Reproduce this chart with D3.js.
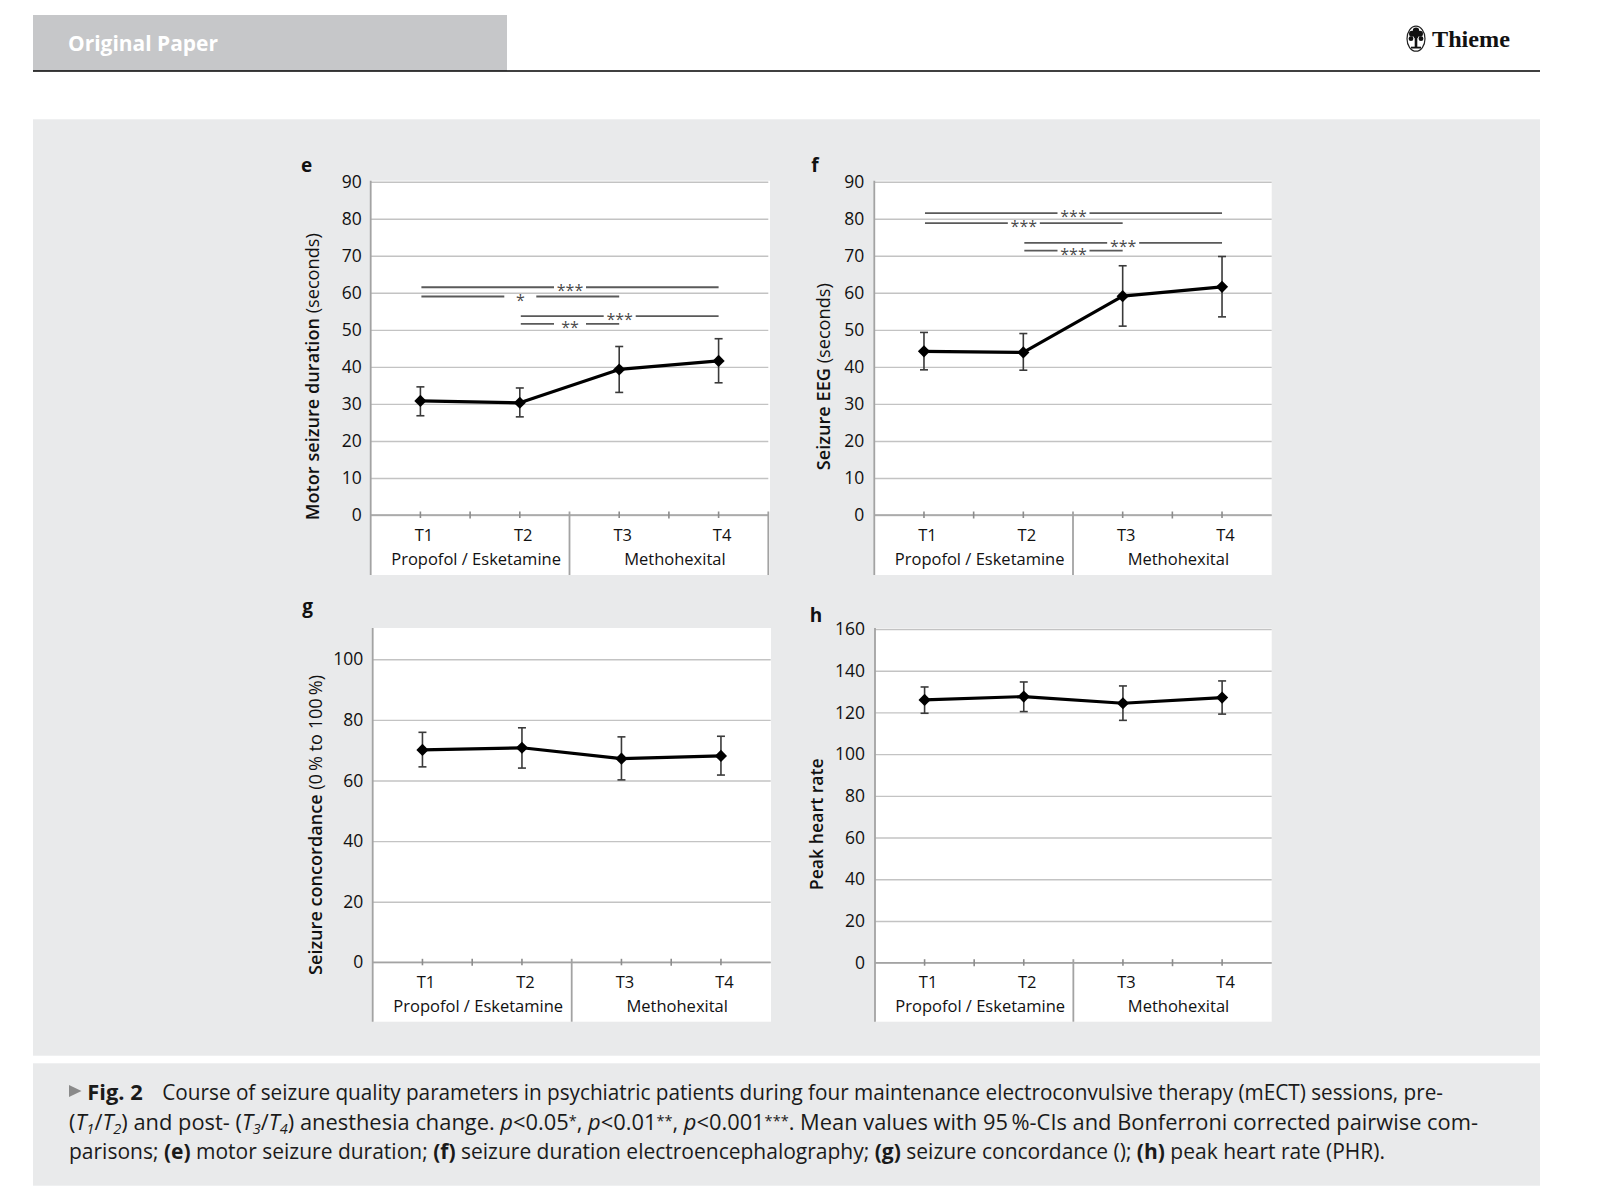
<html>
<head>
<meta charset="utf-8">
<script src="https://d3js.org/d3.v7.min.js"></script>
<style>
body { margin:0; background:#fff; }
</style>
</head>
<body>
<svg width="1600" height="1200"></svg>
<script>
// ---- data ----
var timepoints = ["T1", "T2", "T3", "T4"];
var groups = ["Propofol / Esketamine", "Methohexital"];

var motorMean = [30.8, 30.3, 39.3, 41.6];
var motorLow  = [26.8, 26.5, 33.1, 35.7];
var motorHigh = [34.6, 34.3, 45.5, 47.6];

var eegMean = [44.2, 43.9, 59.1, 61.6];
var eegLow  = [39.2, 39.1, 51.0, 53.5];
var eegHigh = [49.3, 49.0, 67.3, 69.8];

var concMean = [70.1, 70.8, 67.2, 68.1];
var concLow  = [64.5, 64.1, 60.2, 61.8];
var concHigh = [75.9, 77.4, 74.4, 74.6];

var hrMean = [126.0, 127.6, 124.4, 127.1];
var hrLow  = [119.6, 120.4, 116.2, 119.2];
var hrHigh = [132.2, 134.6, 132.7, 135.1];

// pairwise comparisons: from, to, bar height (data units), label
var motorSig = [["T1", "T4", 61.5, "***"], ["T1", "T3", 59.0, "*"], ["T2", "T4", 53.7, "***"], ["T2", "T3", 51.6, "**"]];
var eegSig   = [["T1", "T4", 81.5, "***"], ["T1", "T3", 78.8, "***"], ["T2", "T4", 73.5, "***"], ["T2", "T3", 71.4, "***"]];

var ticks90  = [0, 10, 20, 30, 40, 50, 60, 70, 80, 90];
var ticksConc = [0, 20, 40, 60, 80, 100];
var ticksHr  = [0, 20, 40, 60, 80, 100, 120, 140, 160];

var FONT = "'Open Sans', 'Noto Sans', sans-serif";
var svg = d3.select("svg");

// ---- page furniture ----
svg.append("rect").attr("x", 33).attr("y", 15).attr("width", 474).attr("height", 56).attr("fill", "#c6c7c9");
svg.append("text").attr("x", 68).attr("y", 50.5)
	.attr("font-family", FONT).attr("font-weight", 700).attr("font-size", 21)
	.attr("fill", "#fff").attr("textLength", 150).attr("lengthAdjust", "spacingAndGlyphs")
	.text("Original Paper");
svg.append("line").attr("x1", 33).attr("x2", 1540).attr("y1", 71).attr("y2", 71)
	.attr("stroke", "#000").attr("stroke-width", 1.6);

// Thieme logo
var logo = svg.append("g").attr("transform", "translate(1416,38.7)");
logo.append("ellipse").attr("rx", 9).attr("ry", 12.5).attr("fill", "#fff").attr("stroke", "#222").attr("stroke-width", 1.2);
logo.append("rect").attr("x", -1.3).attr("y", -1).attr("width", 2.6).attr("height", 10).attr("fill", "#111");
logo.append("rect").attr("x", -5).attr("y", 8).attr("width", 10).attr("height", 1.8).attr("fill", "#111");
[[-4, -5, 3], [4, -5, 3], [0, -8, 3.2], [-5, 0, 2.4], [5, 0, 2.4], [0, -3, 2.6]].forEach(function(c) {
	logo.append("circle").attr("cx", c[0]).attr("cy", c[1]).attr("r", c[2]).attr("fill", "#111");
});
svg.append("text").attr("x", 1432).attr("y", 47.3)
	.attr("font-family", "'Liberation Serif', 'DejaVu Serif', serif").attr("font-weight", 700).attr("font-size", 24)
	.attr("fill", "#111").attr("textLength", 78).attr("lengthAdjust", "spacingAndGlyphs")
	.text("Thieme");

// figure and caption backgrounds
svg.append("rect").attr("x", 33).attr("y", 119.3).attr("width", 1507).attr("height", 936.4).attr("fill", "#e9eaeb");
svg.append("rect").attr("x", 33).attr("y", 1063.3).attr("width", 1507).attr("height", 122.4).attr("fill", "#e9eaeb");

// ---- panels ----
var panels = [
	{letter: "e", lx: 306.5, ly: 171.7, left: 370.7, right: 768.3, whiteRight: 770, zero: 515, top: 181.7, bottom: 575,
	 max: 90, ticks: ticks90, pad: 9, mean: motorMean, low: motorLow, high: motorHigh, sig: motorSig, rightEdge: true,
	 title: ["Motor seizure duration", " (seconds)"], tx: 319.3, ty: 376.7, tlen: 287},
	{letter: "f", lx: 815, ly: 171.7, left: 874.3, right: 1271.7, whiteRight: 1271.7, zero: 515, top: 181.7, bottom: 575,
	 max: 90, ticks: ticks90, pad: 10, mean: eegMean, low: eegLow, high: eegHigh, sig: eegSig, rightEdge: false,
	 title: ["Seizure EEG", " (seconds)"], tx: 830, ty: 376.7, tlen: 187},
	{letter: "g", lx: 307.5, ly: 613, left: 372.7, right: 770.7, whiteRight: 771, zero: 962.3, top: 629, bottom: 1021.7,
	 max: 110, ticks: ticksConc, pad: 9.4, mean: concMean, low: concLow, high: concHigh, sig: [], rightEdge: false,
	 title: ["Seizure concordance", " (0\u2009% to 100\u2009%)"], tx: 321.7, ty: 825, tlen: 300},
	{letter: "h", lx: 816, ly: 621.7, left: 875, right: 1271.7, whiteRight: 1271.7, zero: 962.7, top: 629, bottom: 1021.7,
	 max: 160, ticks: ticksHr, pad: 10, mean: hrMean, low: hrLow, high: hrHigh, sig: [], rightEdge: false,
	 title: ["Peak heart rate", ""], tx: 822.7, ty: 824.2, tlen: 132}
];

function drawPanel(p) {
	var g = svg.append("g");
	var x = d3.scaleBand().domain(timepoints).range([p.left, p.right]);
	var y = d3.scaleLinear().domain([0, p.max]).range([p.zero, p.top]);
	var cx = function(t) { return x(t) + x.bandwidth() / 2; };

	g.append("rect").attr("x", p.left).attr("y", p.top - 1)
		.attr("width", p.whiteRight - p.left).attr("height", p.bottom - p.top + 1).attr("fill", "#fff");

	// grid lines + y labels
	g.append("g").attr("transform", "translate(" + p.left + ",0)")
		.call(d3.axisLeft(y).tickValues(p.ticks).tickSize(-(p.right - p.left)).tickPadding(p.pad))
		.attr("font-family", FONT).attr("font-size", 17.5)
		.call(a => a.select(".domain").remove())
		.call(a => a.selectAll(".tick line").attr("stroke", "#c3c3c3").attr("stroke-width", 1.4))
		.call(a => a.selectAll(".tick text").attr("fill", "#111"));

	// zero line and left axis line
	g.append("line").attr("x1", p.left).attr("x2", p.right).attr("y1", y(0)).attr("y2", y(0))
		.attr("stroke", "#a3a3a3").attr("stroke-width", 1.6);
	g.append("line").attr("x1", p.left).attr("x2", p.left).attr("y1", p.top - 1).attr("y2", p.bottom)
		.attr("stroke", "#a3a3a3").attr("stroke-width", 1.8);

	// category axis
	g.append("g").attr("transform", "translate(0," + y(0) + ")")
		.call(d3.axisBottom(x).tickSizeInner(3).tickSizeOuter(0).tickPadding(0))
		.attr("font-family", FONT).attr("font-size", 16.5)
		.call(a => a.select(".domain").remove())
		.call(a => a.selectAll(".tick line").attr("y1", -3.5).attr("stroke", "#8c8c8c").attr("stroke-width", 1.6))
		.call(a => a.selectAll(".tick text").attr("y", 25.5).attr("dy", null).attr("dx", 3.5).attr("fill", "#111"));
	["T2", "T4"].forEach(function(t) {
		g.append("line").attr("x1", x(t)).attr("x2", x(t)).attr("y1", y(0) - 3.5).attr("y2", y(0) + 3.5)
			.attr("stroke", "#8c8c8c").attr("stroke-width", 1.6);
	});
	g.append("line").attr("x1", x("T3")).attr("x2", x("T3")).attr("y1", y(0) - 3.5).attr("y2", p.bottom)
		.attr("stroke", "#a3a3a3").attr("stroke-width", 1.8);
	if (p.rightEdge) {
		g.append("line").attr("x1", p.right).attr("x2", p.right).attr("y1", y(0) - 3.5).attr("y2", p.bottom)
			.attr("stroke", "#a3a3a3").attr("stroke-width", 1.8);
	}
	g.selectAll(".grp").data(groups).enter().append("text")
		.attr("x", function(d, i) { return x(timepoints[2 * i + 1]) + 6; })
		.attr("y", y(0) + 49.5)
		.attr("text-anchor", "middle").attr("font-family", FONT).attr("font-size", 16.5).attr("fill", "#111")
		.text(function(d) { return d; });

	// significance bars
	p.sig.forEach(function(s) {
		var x1 = cx(s[0]) + 1, x2 = cx(s[1]), yy = y(s[2]), mid = (x1 + x2) / 2;
		g.append("line").attr("x1", x1).attr("x2", mid - 16).attr("y1", yy).attr("y2", yy)
			.attr("stroke", "#5a5a5a").attr("stroke-width", 1.8);
		g.append("line").attr("x1", mid + 16).attr("x2", x2).attr("y1", yy).attr("y2", yy)
			.attr("stroke", "#5a5a5a").attr("stroke-width", 1.8);
		g.append("text").attr("x", mid).attr("y", yy + 9).attr("text-anchor", "middle")
			.attr("font-family", FONT).attr("font-size", 16).attr("fill", "#4a4a4a").text(s[3]);
	});

	// error bars
	var rows = timepoints.map(function(t, i) { return {t: t, m: p.mean[i], lo: p.low[i], hi: p.high[i]}; });
	var eb = g.selectAll(".eb").data(rows).enter().append("g");
	eb.append("line").attr("x1", d => cx(d.t)).attr("x2", d => cx(d.t)).attr("y1", d => y(d.lo)).attr("y2", d => y(d.hi))
		.attr("stroke", "#3a3a3a").attr("stroke-width", 1.6);
	eb.append("line").attr("x1", d => cx(d.t) - 4).attr("x2", d => cx(d.t) + 4).attr("y1", d => y(d.lo)).attr("y2", d => y(d.lo))
		.attr("stroke", "#3a3a3a").attr("stroke-width", 1.6);
	eb.append("line").attr("x1", d => cx(d.t) - 4).attr("x2", d => cx(d.t) + 4).attr("y1", d => y(d.hi)).attr("y2", d => y(d.hi))
		.attr("stroke", "#3a3a3a").attr("stroke-width", 1.6);

	// mean line + diamonds
	g.append("path").datum(rows)
		.attr("d", d3.line().x(d => cx(d.t)).y(d => y(d.m)))
		.attr("fill", "none").attr("stroke", "#000").attr("stroke-width", 3.2).attr("stroke-linejoin", "round");
	g.selectAll(".mk").data(rows).enter().append("path")
		.attr("d", d3.symbol(d3.symbolSquare, 74)())
		.attr("transform", d => "translate(" + cx(d.t) + "," + y(d.m) + ") rotate(45)")
		.attr("fill", "#000");

	// y title
	var tt = g.append("text").attr("transform", "translate(" + p.tx + "," + p.ty + ") rotate(-90)")
		.attr("text-anchor", "middle").attr("font-family", FONT).attr("font-size", 18.5).attr("fill", "#111")
		.attr("textLength", p.tlen).attr("lengthAdjust", "spacingAndGlyphs");
	tt.append("tspan").attr("font-weight", 600).text(p.title[0]);
	if (p.title[1]) tt.append("tspan").attr("font-weight", 400).text(p.title[1]);

	// panel letter
	g.append("text").attr("x", p.lx).attr("y", p.ly).attr("text-anchor", "middle")
		.attr("font-family", FONT).attr("font-weight", 700).attr("font-size", 19).attr("fill", "#111").text(p.letter);
}
panels.forEach(drawPanel);

// ---- caption ----
var cap = svg.append("g").attr("font-family", FONT).attr("font-size", 21).attr("fill", "#1a1a1a");
cap.append("path").attr("d", "M69,1085 L81.5,1091 L69,1097 Z").attr("fill", "#8a8a8a");
cap.append("text").attr("x", 87.3).attr("y", 1100).attr("font-weight", 700)
	.attr("textLength", 55.4).attr("lengthAdjust", "spacingAndGlyphs").text("Fig. 2");
cap.append("text").attr("x", 162.3).attr("y", 1100)
	.attr("textLength", 1280.7).attr("lengthAdjust", "spacingAndGlyphs")
	.text("Course of seizure quality parameters in psychiatric patients during four maintenance electroconvulsive therapy (mECT) sessions, pre-");

var l2 = cap.append("text").attr("x", 69).attr("y", 1130)
	.attr("textLength", 1409).attr("lengthAdjust", "spacingAndGlyphs");
function part(t, opt) {
	var s = l2.append("tspan").text(t);
	if (opt && opt.it) s.attr("font-style", "italic");
	if (opt && opt.dy) s.attr("dy", opt.dy);
	if (opt && opt.fs) s.attr("font-size", opt.fs);
	return s;
}
part("(");
part("T", {it: 1}); part("1", {it: 1, dy: 4, fs: 14}); part("/", {dy: -4});
part("T", {it: 1}); part("2", {it: 1, dy: 4, fs: 14}); part(") and post- (", {dy: -4});
part("T", {it: 1}); part("3", {it: 1, dy: 4, fs: 14}); part("/", {dy: -4});
part("T", {it: 1}); part("4", {it: 1, dy: 4, fs: 14}); part(") anesthesia change. ", {dy: -4});
part("p", {it: 1}); part("<0.05"); part("*", {fs: 14, dy: -4}); part(", ", {dy: 4});
part("p", {it: 1}); part("<0.01"); part("**", {fs: 14, dy: -4}); part(", ", {dy: 4});
part("p", {it: 1}); part("<0.001"); part("***", {fs: 14, dy: -4});
part(". Mean values with 95\u2009%-CIs and Bonferroni corrected pairwise com-", {dy: 4});

var l3 = cap.append("text").attr("x", 69).attr("y", 1159.3)
	.attr("textLength", 1316).attr("lengthAdjust", "spacingAndGlyphs");
[["parisons; ", 0], ["(e)", 1], [" motor seizure duration; ", 0], ["(f)", 1], [" seizure duration electroencephalography; ", 0],
 ["(g)", 1], [" seizure concordance (); ", 0], ["(h)", 1], [" peak heart rate (PHR).", 0]].forEach(function(s) {
	l3.append("tspan").attr("font-weight", s[1] ? 700 : 400).text(s[0]);
});
</script>
</body>
</html>
